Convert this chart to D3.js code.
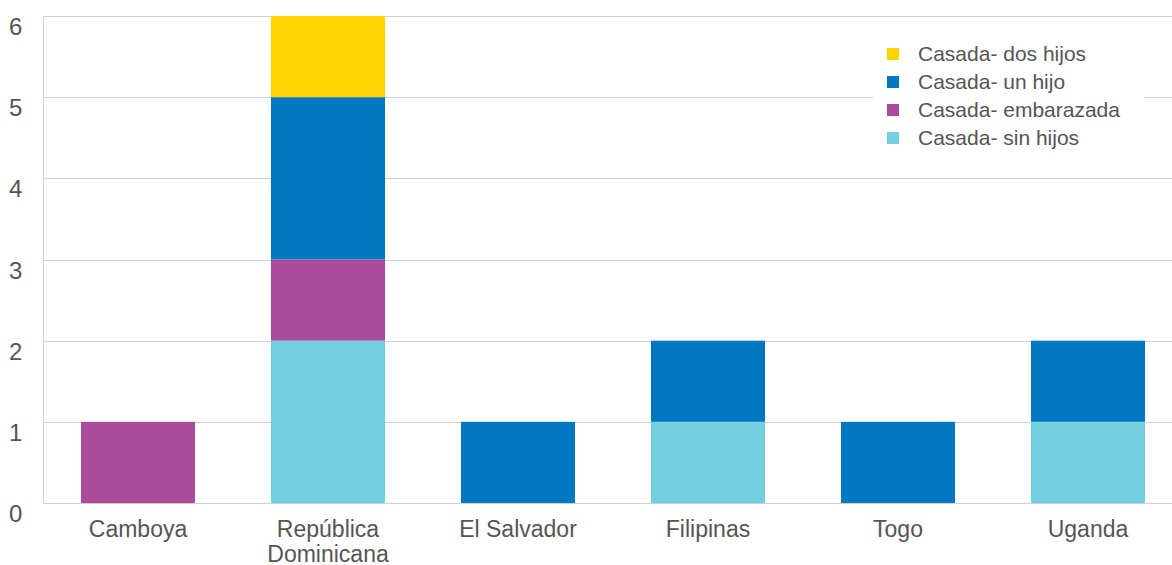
<!DOCTYPE html>
<html>
<head>
<meta charset="utf-8">
<script src="https://d3js.org/d3.v7.min.js"></script>
<style>
body {
  margin: 0;
  font-family: Arial, "Liberation Sans", Helvetica, sans-serif;
  background: white;
}
</style>
</head>
<body>
<div id="chart"></div>
<script>
// chart data
const countries = ["Camboya", "República\nDominicana", "El Salvador", "Filipinas", "Togo", "Uganda"];
const seriesNames = ["Casada- sin hijos", "Casada- embarazada", "Casada- un hijo", "Casada- dos hijos"];
const sinHijos    = [0, 2, 0, 1, 0, 1];
const embarazada  = [1, 1, 0, 0, 0, 0];
const unHijo      = [0, 2, 1, 1, 1, 1];
const dosHijos    = [0, 1, 0, 0, 0, 0];
const yTicks = [0, 1, 2, 3, 4, 5, 6];
const colors = ["#74CEE1", "#AA4C9B", "#0078C1", "#FFD400"];

const width = 1172;
const height = 565;
const marginTop = 16;
const marginBottom = 62;
const marginLeft = 43;
const plotRight = 1183;

const table = countries.map((c, i) => ({
  country: c,
  [seriesNames[0]]: sinHijos[i],
  [seriesNames[1]]: embarazada[i],
  [seriesNames[2]]: unHijo[i],
  [seriesNames[3]]: dosHijos[i]
}));

const stacked = d3.stack().keys(seriesNames)(table);

const x = d3.scaleBand()
  .domain(countries)
  .range([marginLeft, plotRight])
  .paddingInner(0.4)
  .paddingOuter(0.2);

const y = d3.scaleLinear()
  .domain([0, 6])
  .range([height - marginBottom, marginTop]);

const svg = d3.create("svg")
  .attr("width", width)
  .attr("height", height)
  .attr("viewBox", [0, 0, width, height]);

// gridlines
svg.append("g")
  .selectAll("line")
  .data(yTicks)
  .join("line")
    .attr("x1", marginLeft)
    .attr("x2", width)
    .attr("y1", d => Math.round(y(d)) + 0.5)
    .attr("y2", d => Math.round(y(d)) + 0.5)
    .attr("stroke", "#d0d0d0")
    .attr("stroke-width", 1);

// y axis line
svg.append("line")
  .attr("x1", marginLeft + 0.5)
  .attr("x2", marginLeft + 0.5)
  .attr("y1", y(6))
  .attr("y2", y(0))
  .attr("stroke", "#d0d0d0");

// y labels
svg.append("g")
  .selectAll("text")
  .data(yTicks)
  .join("text")
    .attr("x", 9)
    .attr("y", d => y(d) + 19)
    .attr("fill", "#555")
    .attr("font-size", 24)
    .text(d => d);

// bars
svg.append("g")
  .selectAll("g")
  .data(stacked)
  .join("g")
    .attr("fill", (d, i) => colors[i])
  .selectAll("rect")
  .data(d => d.filter(s => s[1] > s[0]))
  .join("rect")
    .attr("x", d => x(d.data.country))
    .attr("width", x.bandwidth())
    .attr("y", d => y(d[1]))
    .attr("height", d => y(d[0]) - y(d[1]));

// x labels
const xl = svg.append("g")
  .selectAll("text")
  .data(countries)
  .join("text")
    .attr("text-anchor", "middle")
    .attr("fill", "#555")
    .attr("font-size", 23)
    .attr("transform", d => `translate(${x(d) + x.bandwidth() / 2},${y(0) + 34})`);
xl.selectAll("tspan")
  .data(d => d.split("\n"))
  .join("tspan")
    .attr("x", 0)
    .attr("dy", (d, i) => i === 0 ? 0 : 25)
    .text(d => d);

// legend
const legend = svg.append("g");
legend.append("rect")
  .attr("x", 873)
  .attr("y", 36)
  .attr("width", 272)
  .attr("height", 118)
  .attr("fill", "white");

const legendOrder = [3, 2, 1, 0];
const item = legend.selectAll("g")
  .data(legendOrder)
  .join("g")
    .attr("transform", (d, i) => `translate(887,${54 + i * 28})`);
item.append("rect")
  .attr("x", 0)
  .attr("y", -6)
  .attr("width", 12)
  .attr("height", 12)
  .attr("fill", d => colors[d]);
item.append("text")
  .attr("x", 31)
  .attr("y", 7)
  .attr("fill", "#555")
  .attr("font-size", 21)
  .text(d => seriesNames[d]);

document.getElementById("chart").appendChild(svg.node());
</script>
</body>
</html>
